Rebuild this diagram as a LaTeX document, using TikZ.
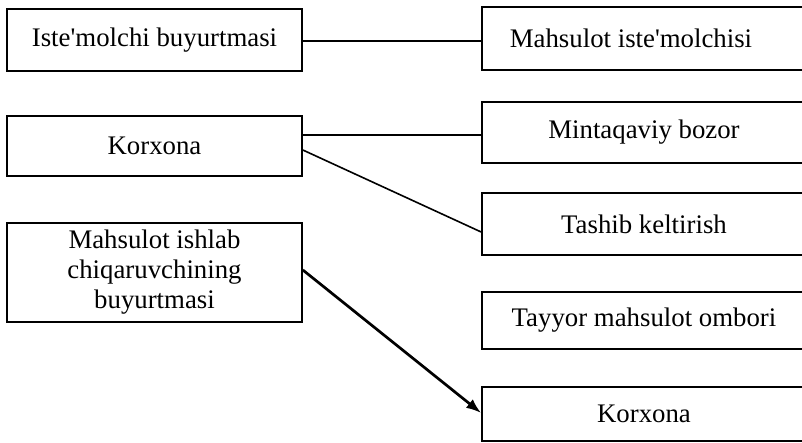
\documentclass[tikz,border=0pt]{standalone}
\usepackage{fontspec}
\setmainfont{Liberation Serif}
\usetikzlibrary{arrows.meta}
\begin{document}
\begin{tikzpicture}[x=1pt,y=-1pt,
  box/.style={draw=black,line width=1.7pt,rectangle,inner sep=0pt,align=center,
    font=\fontsize{26.8}{30}\selectfont},
  link/.style={draw=black,line width=1.6pt},
  arrowlink/.style={draw=black,line width=2.7pt,-{Latex[length=15pt,width=11pt]}}]
\useasboundingbox (0,0) rectangle (802,442);
% left column
\node[box,minimum width=295pt,minimum height=62pt] (A) at (154.5,40) {Iste\textquotesingle molchi buyurtmasi};
\node[box,minimum width=295pt,minimum height=60pt] (B) at (154.5,146) {Korxona};
\node[box,minimum width=295pt,minimum height=99pt] (C) at (154.5,272.5) {Mahsulot ishlab\\chiqaruvchining\\buyurtmasi};
% right column
\node[box,minimum width=324pt,minimum height=63pt] (R1) at (644,38.5) {Mahsulot iste\textquotesingle molchisi\hspace*{26pt}};
\node[box,minimum width=324pt,minimum height=61pt] (R2) at (644,132.5) {Mintaqaviy bozor};
\node[box,minimum width=324pt,minimum height=62pt] (R3) at (644,224) {Tashib keltirish};
\node[box,minimum width=324pt,minimum height=57pt] (R4) at (644,320.5) {Tayyor mahsulot ombori};
\node[box,minimum width=324pt,minimum height=54pt] (R5) at (644,414) {Korxona};
% anchor points
\coordinate (a1) at ([yshift=-1pt]A.east);
\coordinate (b1) at ([yshift=11pt]B.east);
\coordinate (b2) at ([yshift=-4pt]B.east);
\coordinate (c1) at ([yshift=2.5pt]C.east);
% connectors
\draw[link] (a1) -- (R1.west |- a1);
\draw[link] (b1) -- (R2.west |- b1);
\draw[link] (b2) -- ([yshift=-8pt]R3.west);
\draw[arrowlink] (c1) -- ([yshift=1pt]R5.west);
\end{tikzpicture}
\end{document}
